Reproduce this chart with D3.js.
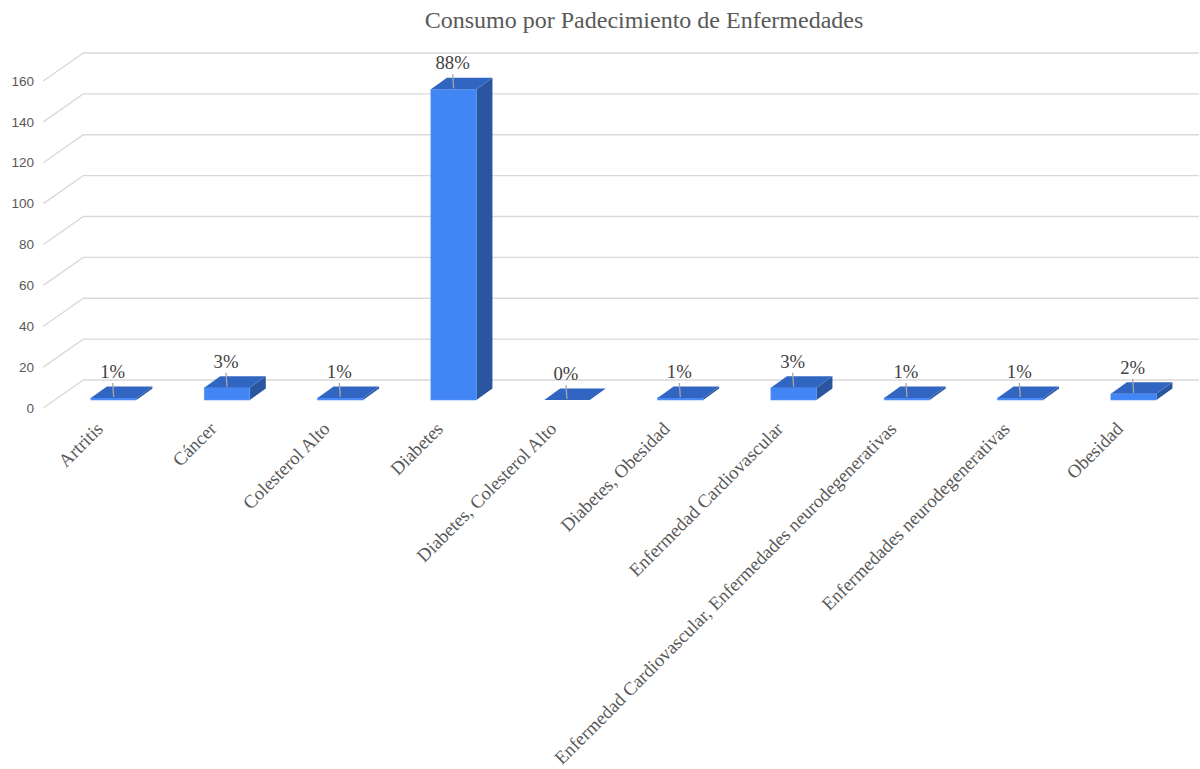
<!DOCTYPE html>
<html><head><meta charset="utf-8">
<script src="https://cdn.jsdelivr.net/npm/d3@7"></script>
<style>body{margin:0;background:#fff}</style>
</head><body>
<svg id="chart" width="1200" height="769"></svg>
<script>
const categories = ["Artritis","Cáncer","Colesterol Alto","Diabetes","Diabetes, Colesterol Alto","Diabetes, Obesidad","Enfermedad Cardiovascular","Enfermedad Cardiovascular, Enfermedades neurodegenerativas","Enfermedades neurodegenerativas","Obesidad"];
const values = [1,6,1,152,0,1,6,1,1,3];
const yTicks = [0,20,40,60,80,100,120,140,160];
const title = "Consumo por Padecimiento de Enfermedades";

const svg = d3.select("#chart");
const floorY = 408, topY = 81;
const wallX = 43.3;
const depth = {dx:40, dy:-28};
const front = {dx:11.4, dy:-8};
const barDepth = {dx:16, dy:-11.5};
const y = d3.scaleLinear().domain([0,160]).range([floorY, topY]);
const x = d3.scaleBand().domain(categories).range([45.6, 45.6+1133.3]).paddingInner(0.598).paddingOuter(0.299);
const bw = x.bandwidth();
const total = d3.sum(values);
const serif = "'Liberation Serif','Times New Roman',serif";
const sans = "'Liberation Sans',Arial,sans-serif";

svg.append("rect").attr("width",1200).attr("height",769).attr("fill","#fff");

// title
svg.append("text").attr("x",644).attr("y",28).attr("text-anchor","middle")
  .attr("font-family",serif).attr("font-size",24).attr("fill","#595959").text(title);

// gridlines: side wall diagonal + back wall
const grid = svg.append("g");
yTicks.forEach(t=>{
  const yy = y(t);
  grid.append("path")
    .attr("d",`M${wallX},${yy}L${wallX+depth.dx},${yy+depth.dy}L1199,${yy+depth.dy}`)
    .attr("fill","none").attr("stroke","#d9d9d9").attr("stroke-width",1.3);
});
// y tick labels
svg.append("g").selectAll("text").data(yTicks).join("text")
  .attr("x",34).attr("y",d=>y(d)).attr("dy","0.35em").attr("text-anchor","end")
  .attr("font-family",sans).attr("font-size",13.5).attr("fill","#595959").text(d=>d);

// bars
const bars = svg.append("g");
categories.forEach((c,i)=>{
  const v = values[i];
  const L = x(c)+front.dx, R = L+bw;
  const bot = floorY+front.dy, top = y(v)+front.dy;
  const g = bars.append("g");
  g.append("polygon")
    .attr("points",[[R,top],[R+barDepth.dx,top+barDepth.dy],[R+barDepth.dx,bot+barDepth.dy],[R,bot]].join(" "))
    .attr("fill","#2a559f");
  g.append("rect").attr("x",L).attr("y",top).attr("width",bw).attr("height",bot-top)
    .attr("fill","#4285f4").attr("stroke","#5d97f6").attr("stroke-width",0.6);
  g.append("polygon")
    .attr("points",[[L,top],[L+barDepth.dx,top+barDepth.dy],[R+barDepth.dx,top+barDepth.dy],[R,top]].join(" "))
    .attr("fill","#3066c2");
  // data label
  const lx = L+bw/2-1, ly = top-20;
  g.append("line").attr("x1",lx).attr("y1",ly+5).attr("x2",L+bw/2).attr("y2",top-1)
    .attr("stroke","#a6a6a6").attr("stroke-width",1.3);
  g.append("text").attr("x",lx).attr("y",ly).attr("text-anchor","middle")
    .attr("font-family",serif).attr("font-size",18.7).attr("fill","#404040")
    .text(Math.round(v/total*100)+"%");
});

// x labels
svg.append("g").selectAll("text").data(categories).join("text")
  .attr("text-anchor","end")
  .attr("transform",d=>`translate(${x(d)+bw/2+2},${430}) rotate(-45)`)
  .attr("font-family",serif).attr("font-size",18.7).attr("fill","#595959").text(d=>d);
</script>
</body></html>
